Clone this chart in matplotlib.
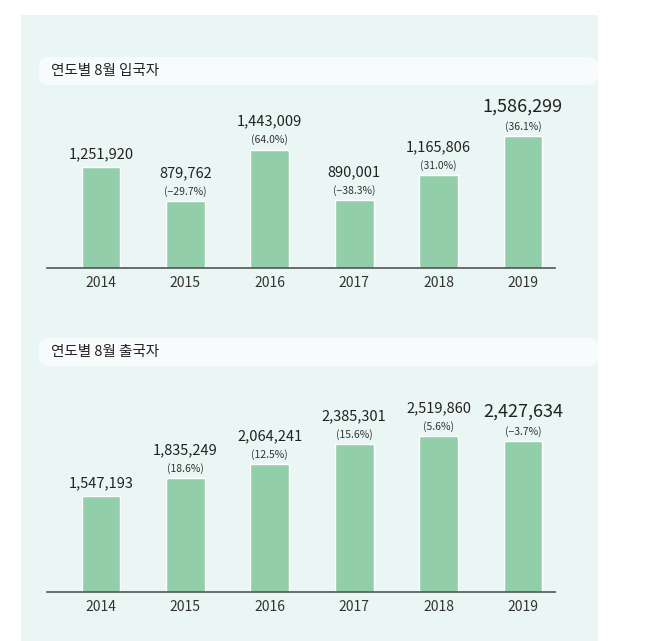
import matplotlib
matplotlib.use("Agg")
import matplotlib.pyplot as plt
from matplotlib import font_manager as fm
from matplotlib.patches import FancyBboxPatch, Rectangle

cjk = None
for f in fm.fontManager.ttflist:
    if "CJK" in f.name and ("KR" in f.name or cjk is None):
        cjk = f.name
plt.rcParams["font.family"] = [cjk or "Noto Sans CJK KR", "DejaVu Sans"]

years = ["2014", "2015", "2016", "2017", "2018", "2019"]
arrivals = [1251920, 879762, 1443009, 890001, 1165806, 1586299]
arrivals_pct = [None, "(−29.7%)", "(64.0%)", "(−38.3%)", "(31.0%)", "(36.1%)"]
departures = [1547193, 1835249, 2064241, 2385301, 2519860, 2427634]
departures_pct = [None, "(18.6%)", "(12.5%)", "(15.6%)", "(5.6%)", "(−3.7%)"]
titles = ["연도별 8월 입국자", "연도별 8월 출국자"]

W, H = 653, 641
fig = plt.figure(figsize=(W/100, H/100), dpi=100)
fig.patches.append(Rectangle((21/W, 0), (598-21)/W, (H-15)/H, transform=fig.transFigure,
                             facecolor="#EAF6F4", edgecolor="none", zorder=-2))

def px(x0, y_top, w, h):
    return [x0/W, (H-y_top-h)/H, w/W, h/H]

def panel(rect, vals, pcts, ymin, ymax, title, ty):
    fig.patches.append(FancyBboxPatch((39/W, (H-ty-14)/H), (598-39)/W, 28/H,
                       boxstyle="round,pad=0,rounding_size=0.015", transform=fig.transFigure,
                       facecolor="#F7FBFB", edgecolor="none", zorder=-1))
    fig.text(51/W, (H-ty)/H, title, fontsize=10.5, va="center", ha="left", color="#222222", zorder=5)
    ax = fig.add_axes(rect)
    ax.set_zorder(3)
    ax.set_facecolor("none")
    x = list(range(len(vals)))
    ax.bar(x, vals, width=0.46, color="#93CEAA", edgecolor="white", linewidth=1, zorder=2)
    ax.set_xlim(-0.64, 5.38)
    ax.set_ylim(ymin, ymax)
    for s in ["top", "right", "left"]:
        ax.spines[s].set_visible(False)
    ax.spines["bottom"].set_color("#555555")
    ax.spines["bottom"].set_linewidth(1.2)
    ax.set_yticks([])
    ax.set_xticks(x)
    ax.set_xticklabels(years, fontsize=10, color="#333333")
    ax.tick_params(axis="x", length=0, pad=6)
    for i, (v, p) in enumerate(zip(vals, pcts)):
        big = i == len(vals) - 1
        off = 4
        if p:
            ax.annotate(p, (i, v), xytext=(0, 3), textcoords="offset points",
                        ha="center", va="bottom", fontsize=7.5, color="#333333", annotation_clip=False)
            off = 15
        ax.annotate(f"{v:,}", (i, v), xytext=(0, off), textcoords="offset points",
                    ha="center", va="bottom", fontsize=13 if big else 10.5, color="#222222",
                    annotation_clip=False)
    return ax

panel(px(47, 100, 508, 168), arrivals, arrivals_pct, 147000, 1985000, titles[0], 71)
panel(px(47, 430, 508, 162), departures, departures_pct, 0, 2613000, titles[1], 352)

fig.savefig("out.png", dpi=100)
